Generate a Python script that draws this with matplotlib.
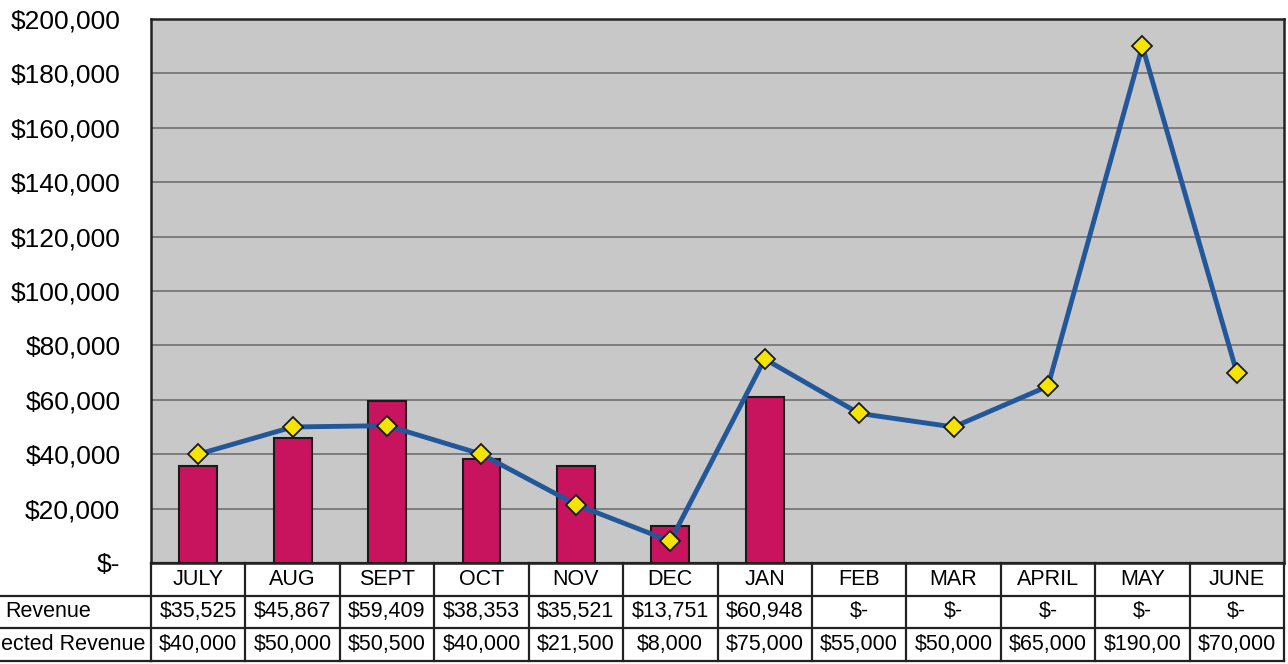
import matplotlib
matplotlib.use('Agg')
import matplotlib.pyplot as plt
from matplotlib.transforms import blended_transform_factory
from matplotlib.ticker import FuncFormatter

plt.rcParams['font.family'] = ['Liberation Sans', 'DejaVu Sans']

# Dados do gráfico
meses = ['JULY', 'AUG', 'SEPT', 'OCT', 'NOV', 'DEC', 'JAN', 'FEB', 'MAR', 'APRIL', 'MAY', 'JUNE']
receita = [35525, 45867, 59409, 38353, 35521, 13751, 60948]
projetada = [40000, 50000, 50500, 40000, 21500, 8000, 75000, 55000, 50000, 65000, 190000, 70000]
receita_txt = ['$35,525', '$45,867', '$59,409', '$38,353', '$35,521', '$13,751', '$60,948',
               '$-', '$-', '$-', '$-', '$-']
projetada_txt = ['$40,000', '$50,000', '$50,500', '$40,000', '$21,500', '$8,000', '$75,000',
                 '$55,000', '$50,000', '$65,000', '$190,00', '$70,000']
linhas_tabela = ['Revenue', 'Projected Revenue']

fig = plt.figure(figsize=(12.88, 6.64), dpi=100)
ax = fig.add_axes([151 / 1288, 101 / 664, 1133 / 1288, 544 / 664])
ax.set_facecolor('#c8c8c8')

x = list(range(len(meses)))
ax.bar(x[:len(receita)], receita, width=0.4, color='#c8135f', edgecolor='#1a1a1a', linewidth=1.5, zorder=3)
ax.plot(x, projetada, color='#22579a', linewidth=3.5, marker='D', markersize=10,
        markerfacecolor='#f4e400', markeredgecolor='#1a1a1a', markeredgewidth=1.3, zorder=4)

ax.set_xlim(-0.5, len(meses) - 0.5)
ax.set_ylim(0, 200000)
ax.set_yticks(range(0, 200001, 20000))
ax.yaxis.set_major_formatter(FuncFormatter(lambda v, p: '$-' if v == 0 else f'${v:,.0f}'))
ax.tick_params(axis='y', length=0, pad=22, labelsize=19)
ax.set_xticks([])
ax.grid(axis='y', color='#707070', linewidth=1.2, zorder=1)
for s in ax.spines.values():
    s.set_linewidth(1.8)
    s.set_color('#222222')

# Tabela de dados abaixo do gráfico
tr = blended_transform_factory(ax.transData, ax.transAxes)
h = 0.06
esq = -0.14
kw = dict(color='#222222', linewidth=1.6, clip_on=False)
for k in range(4):
    ax.plot([-0.5, len(meses) - 0.5], [-k * h, -k * h], transform=tr, **kw)
for k in range(1, 4):
    ax.plot([esq, 0], [-k * h, -k * h], transform=ax.transAxes, **kw)
for i in range(len(meses) + 1):
    ax.plot([i - 0.5, i - 0.5], [0, -3 * h], transform=tr, **kw)

fs = 15.5
for i, m in enumerate(meses):
    ax.text(i, -0.5 * h, m, transform=tr, ha='center', va='center', fontsize=fs)
    ax.text(i, -1.5 * h, receita_txt[i], transform=tr, ha='center', va='center', fontsize=fs)
    ax.text(i, -2.5 * h, projetada_txt[i], transform=tr, ha='center', va='center', fontsize=fs)

ax.text(-146 / 1133, -1.5 * h, linhas_tabela[0], transform=ax.transAxes, ha='left', va='center', fontsize=fs)
ax.text(-6 / 1133, -2.5 * h, linhas_tabela[1], transform=ax.transAxes, ha='right', va='center', fontsize=fs)

fig.savefig('out.png', dpi=100)
